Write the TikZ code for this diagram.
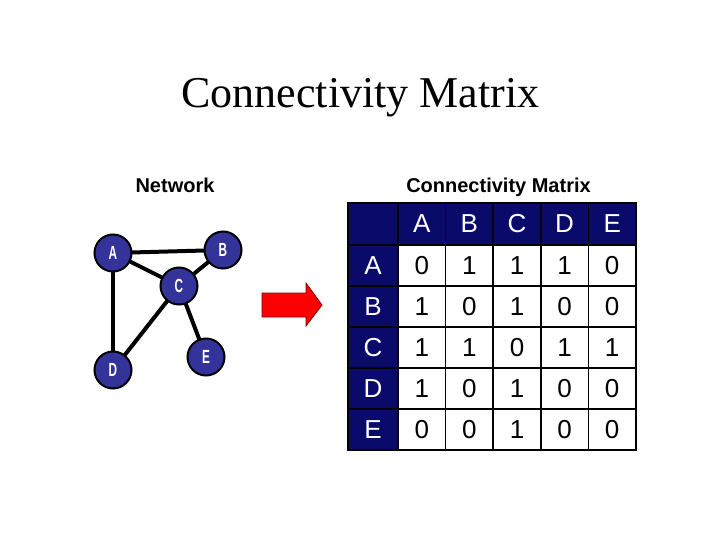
\documentclass[tikz,border=0pt]{standalone}
\usepackage{fontspec}
\setmainfont{Liberation Serif}
\newfontfamily\arialfont{Liberation Sans}
\usetikzlibrary{backgrounds}
\definecolor{navy}{HTML}{0A0A6A}
\definecolor{nodeblue}{HTML}{333399}
\definecolor{arrowred}{HTML}{FF0000}
\tikzset{
  vertex/.style={circle, fill=nodeblue, draw=black, line width=2pt, minimum size=37pt, inner sep=0pt,
    text=white, font=\arialfont\bfseries\fontsize{19}{19}\selectfont},
  edge/.style={line width=4pt, black},
  hdr/.style={rectangle, fill=navy, draw=black, line width=1.5pt, text=white, inner sep=0pt,
    minimum width=47.6pt, minimum height=41pt, font=\arialfont\fontsize{26}{26}\selectfont},
  cellbox/.style={rectangle, fill=white, draw=black, line width=1.5pt, text=black, inner sep=0pt,
    minimum width=47.6pt, minimum height=41pt, font=\arialfont\fontsize{26}{26}\selectfont},
  caption/.style={font=\arialfont\bfseries\fontsize{20}{20}\selectfont, anchor=base},
}
\newcommand{\nl}[1]{\scalebox{0.62}[1]{#1}}
\begin{document}
\begin{tikzpicture}[x=1pt,y=-1pt]
\useasboundingbox (0,0) rectangle (720,540);
% title
\node[anchor=base, font=\fontsize{44}{44}\selectfont] (title) at (360.5,108) {Connectivity Matrix};
\node[caption] (netlab) at (175,193) {Network};
\node[caption] (matlab) at (498.5,193) {Connectivity Matrix};
% network
\node[vertex] (A) at (113,253) {\nl{A}};
\node[vertex] (B) at (223,250) {\nl{B}};
\node[vertex] (C) at (179,286) {\nl{C}};
\node[vertex] (D) at (113,370) {\nl{D}};
\node[vertex] (E) at (206,357) {\nl{E}};
\begin{scope}[on background layer]
\draw[edge] (A.center) -- (B.center);
\draw[edge] (A.center) -- (C.center);
\draw[edge] (C.center) -- (B.center);
\draw[edge] (A.center) -- (D.center);
\draw[edge] (C.center) -- (D.center);
\draw[edge] (C.center) -- (E.center);
\end{scope}
% arrow
\draw[fill=arrowred, draw=red!50!black, line width=0.8pt]
  (262,293) -- (306,293) -- (306,283) -- (322,305) -- (306,326) -- (306,317) -- (262,317) -- cycle;
% table
\def\rowh{41.0}
\def\colw{47.6}
\node[hdr, minimum width=50pt] (corner) at (373,224) {};
\foreach \c [count=\i from 0] in {A,B,C,D,E}{
  \node[hdr] (h-\c) at ({398+\colw*(\i+0.5)},224) {\c};
  \node[hdr, minimum width=50pt] (r-\c) at (373,{245+\rowh*(\i+0.5)}) {\c};
}
\foreach \row [count=\r from 0] in {{0,1,1,1,0},{1,0,1,0,0},{1,1,0,1,1},{1,0,1,0,0},{0,0,1,0,0}}{
  \foreach \v [count=\c from 0] in \row {
    \node[cellbox] (m-\r-\c) at ({398+\colw*(\c+0.5)},{245+\rowh*(\r+0.5)}) {\v};
  }
}
\draw[black, line width=2.5pt] (348,203) rectangle (636,450);
\end{tikzpicture}
\end{document}
